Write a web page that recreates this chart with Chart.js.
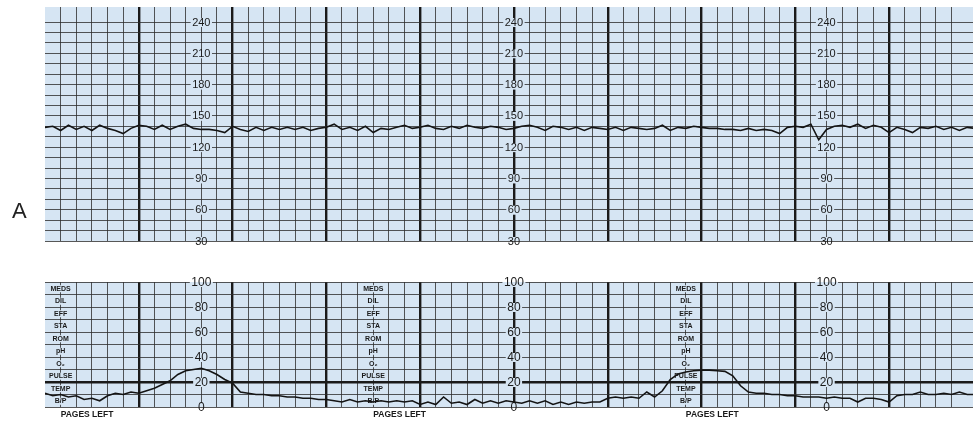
<!DOCTYPE html>
<html>
<head>
<meta charset="utf-8">
<script src="https://cdn.jsdelivr.net/npm/chart.js@4.4.1/dist/chart.umd.min.js"></script>
<style>
  html, body { margin: 0; padding: 0; background: #ffffff; }
  #strip { position: relative; width: 973px; height: 421px; overflow: hidden; }
  #strip canvas { position: absolute; left: 0; top: 0; }
</style>
</head>
<body>
<div id="strip">
  <canvas id="fhr" width="973" height="421"></canvas>
  <canvas id="toco" width="973" height="421"></canvas>
</div>
<script>
// Time runs in 10-second paper boxes; each sample below is half a box apart.
const SAMPLE_STEP = 0.5;
const STRIP_BOXES = 59.37;

// Fetal heart rate, bpm
const fhrValues = [
  139, 140, 136, 141, 137, 140, 136, 141, 138, 136, 133, 138, 141, 140, 137, 141,
  137, 140, 142, 138, 137, 137, 136, 134, 140, 137, 135, 139, 136, 139, 137, 139,
  137, 139, 136, 138, 139, 142, 137, 139, 136, 140, 134, 138, 137, 139, 141, 138,
  139, 141, 138, 137, 140, 138, 141, 139, 138, 140, 139, 137, 138, 140,
  141, 139, 136, 140, 139, 137, 139, 136, 139, 138, 137, 139, 136, 139, 138, 137,
  138, 141, 136, 139, 138, 140, 139, 138, 138, 137, 137, 136, 138, 136, 137,
  136, 133, 139, 140, 139, 142, 127, 137, 140, 141, 139, 142, 138, 141, 139, 134,
  139, 137, 134, 139, 138, 140, 137, 139, 136, 139, 138
];

// Uterine activity, mm Hg
const tocoValues = [
  11, 9, 10, 8, 9, 6, 7, 5, 9, 11, 10, 12, 11, 13, 15, 18, 21, 26, 29, 30,
  31, 29, 26, 22, 19, 12, 11, 10, 10, 9, 9, 8, 8, 7, 7, 6, 6, 5, 4, 6,
  4, 5, 4, 5, 4, 5, 4, 5, 2, 4, 2, 8, 3, 4, 2, 6, 3, 5, 3, 5,
  4, 3, 5, 3, 5, 2, 4, 2, 4, 3, 4, 4, 7, 8, 7, 8, 7, 12, 8, 13,
  22, 26.5, 28, 29, 29.5, 29.5, 29, 28.5, 25, 17, 12, 11, 11, 10, 10, 9, 9, 8, 8, 8,
  7, 8, 7, 7, 4, 7, 7, 6, 4, 9, 10, 10, 12, 10, 10, 11, 10, 12, 10, 10
];

// Printed scale numbers and where they repeat along the strip (in boxes)
const fhrTickLabels = [240, 210, 180, 150, 120, 90, 60, 30];
const tocoTickLabels = [100, 80, 60, 40, 20, 0];
const scaleColumns = [10, 30, 50];

// Chart-note rows printed on the uterine panel, top to bottom
const noteRows = ['MEDS', 'DIL', 'EFF', 'STA', 'ROM', 'pH', 'O\u2082', 'PULSE', 'TEMP', 'B/P'];
const noteColumns = [1, 21, 41];
const footerText = 'PAGES LEFT';
const panelLetter = 'A';

const PAPER = '#d6e5f3';
const INK = '#1a1a1a';
const FINE_LINE = 'rgba(45,45,45,0.8)';

const toPoints = vals => vals.map((v, i) => ({ x: i * SAMPLE_STEP, y: v }));

// Light-blue recording paper behind the plot area
const paperPlugin = {
  id: 'paper',
  beforeDraw(chart, args, opts) {
    const { ctx, chartArea: a } = chart;
    ctx.save();
    ctx.fillStyle = opts.color;
    ctx.fillRect(a.left, a.top, a.right - a.left, a.bottom - a.top);
    ctx.restore();
  }
};

// Text printed on the paper: scale numbers, note rows, footer, panel letter
function drawBoxedText(ctx, area, text, x, y, padX, h) {
  const w = ctx.measureText(text).width + padX * 2;
  ctx.save();
  ctx.beginPath();
  ctx.rect(area.left, area.top, area.right - area.left, area.bottom - area.top);
  ctx.clip();
  ctx.fillStyle = PAPER;
  ctx.fillRect(x - w / 2, y - h / 2, w, h);
  ctx.restore();
  ctx.fillText(text, x, y);
}

const printPlugin = {
  id: 'print',
  beforeDatasetsDraw(chart, args, opts) {
    const { ctx, chartArea: a, scales } = chart;
    const xs = scales.x, ys = scales.y;
    ctx.save();
    ctx.fillStyle = INK;
    ctx.textAlign = 'center';
    ctx.textBaseline = 'middle';
    ctx.font = opts.tickFont;
    opts.columns.forEach(col => {
      const x = xs.getPixelForValue(col);
      opts.ticks.forEach(t => {
        drawBoxedText(ctx, a, String(t), x, ys.getPixelForValue(t) + 0.5, 1.5, 9);
      });
    });
    if (opts.notes) {
      ctx.font = opts.noteFont;
      opts.noteColumns.forEach(col => {
        const x = xs.getPixelForValue(col);
        opts.notes.forEach((n, i) => {
          const mid = ys.getPixelForValue(95 - i * 10);
          drawBoxedText(ctx, a, n, x, mid + 0.5, 1, 7);
        });
      });
      ctx.font = opts.footerFont;
      ctx.textAlign = 'left';
      opts.noteColumns.forEach(col => {
        ctx.fillText(opts.footer, xs.getPixelForValue(col), a.bottom + 8);
      });
    }
    if (opts.letter) {
      ctx.font = '22px "Liberation Sans", Arial, sans-serif';
      ctx.fillStyle = '#222';
      ctx.textAlign = 'left';
      ctx.textBaseline = 'alphabetic';
      ctx.fillText(opts.letter, 12, ys.getPixelForValue(60) + 8);
    }
    ctx.restore();
  }
};

// Vertical rulings: fine every box, heavy every minute (6 boxes)
function timeGrid() {
  return {
    drawTicks: false,
    color: c => {
      const v = c.tick.value;
      if (v <= 0 || Math.abs(v - Math.round(v)) > 1e-6) return 'rgba(0,0,0,0)';
      return Math.round(v) % 6 === 0 ? INK : FINE_LINE;
    },
    lineWidth: c => (Math.round(c.tick.value) % 6 === 0 ? 2.4 : 1)
  };
}

function baseOptions(padding, yScale, printOpts) {
  return {
    animation: false,
    responsive: false,
    maintainAspectRatio: false,
    events: [],
    layout: { padding },
    plugins: {
      legend: { display: false },
      tooltip: { enabled: false },
      paper: { color: PAPER },
      print: printOpts
    },
    scales: {
      x: {
        type: 'linear',
        min: 0,
        max: STRIP_BOXES,
        ticks: { display: false, stepSize: 1 },
        grid: timeGrid(),
        border: { display: false }
      },
      y: yScale
    }
  };
}

const traceStyle = {
  borderColor: '#141414',
  borderWidth: 1.6,
  pointRadius: 0,
  tension: 0,
  fill: false
};

// Upper panel: fetal heart rate
new Chart(document.getElementById('fhr'), {
  type: 'line',
  data: { datasets: [Object.assign({ data: toPoints(fhrValues) }, traceStyle)] },
  options: baseOptions(
    { left: 45, top: 7, right: 0, bottom: 180 },
    {
      type: 'linear',
      min: 30,
      max: 254.4,
      ticks: { display: false, stepSize: 10 },
      grid: {
        drawTicks: false,
        color: c => (c.tick.value > 240.5 ? 'rgba(0,0,0,0)' : FINE_LINE),
        lineWidth: 1
      },
      border: { display: false }
    },
    {
      tickFont: '11px "Liberation Sans", Arial, sans-serif',
      ticks: fhrTickLabels,
      columns: scaleColumns,
      letter: panelLetter
    }
  ),
  plugins: [paperPlugin, printPlugin]
});

// Lower panel: uterine activity with chart-note rows
new Chart(document.getElementById('toco'), {
  type: 'line',
  data: { datasets: [Object.assign({ data: toPoints(tocoValues) }, traceStyle)] },
  options: baseOptions(
    { left: 45, top: 282, right: 0, bottom: 14 },
    {
      type: 'linear',
      min: 0,
      max: 100,
      ticks: { display: false, stepSize: 10 },
      grid: {
        drawTicks: false,
        color: c => (c.tick.value === 20 ? INK : FINE_LINE),
        lineWidth: c => (c.tick.value === 20 ? 2.4 : 1)
      },
      border: { display: false }
    },
    {
      tickFont: '12px "Liberation Sans", Arial, sans-serif',
      ticks: tocoTickLabels,
      columns: scaleColumns,
      notes: noteRows,
      noteColumns: noteColumns,
      noteFont: 'bold 7px "Liberation Sans", Arial, sans-serif',
      footer: footerText,
      footerFont: 'bold 8.5px "Liberation Sans", Arial, sans-serif'
    }
  ),
  plugins: [paperPlugin, printPlugin]
});
</script>
</body>
</html>
